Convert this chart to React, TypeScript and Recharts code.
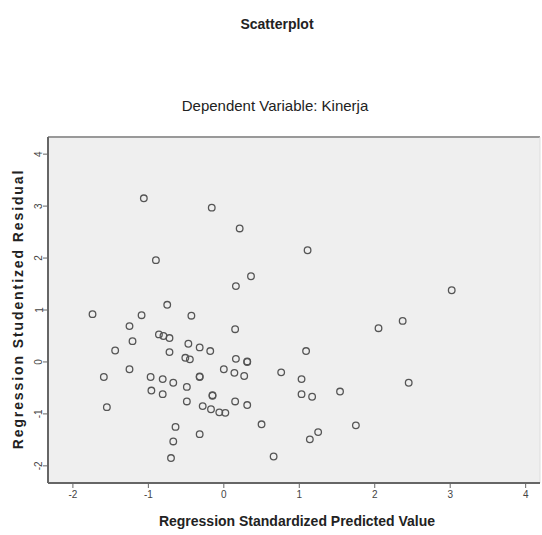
import { ScatterChart, Scatter, XAxis, YAxis, CartesianGrid, ReferenceLine } from "recharts";

// predicted (x) / studentized residual (y)
const predicted = [
  -1.06, -0.16, 0.21, -0.9, 0.36, 0.16, -0.75, 1.11, 3.02, -1.74, -1.09, -0.43,
  -1.25, -1.21, -1.44, -0.86, -0.8, -0.72, -0.47, -0.32, -0.18, -0.72, -0.51, -0.45,
  0.15, 0.16, 0.31, 0.31, 0.0, 0.14, 0.27, -1.25, -1.59, -0.97, -0.81, -0.67,
  -0.32, -0.32, -0.49, -0.96, -0.81, -0.15, -0.15, -0.49, -0.28, -0.17, -0.06, 0.02,
  0.15, 0.31, -1.55, -0.64, -0.67, -0.32, -0.7, 0.5, 0.66, 2.05, 2.37, 1.09,
  0.76, 1.03, 1.03, 1.17, 1.54, 2.45, 1.75, 1.25, 1.14,
];
const residual = [
  3.15, 2.97, 2.57, 1.96, 1.65, 1.46, 1.1, 2.15, 1.38, 0.92, 0.9, 0.89,
  0.69, 0.4, 0.22, 0.53, 0.5, 0.46, 0.35, 0.28, 0.21, 0.19, 0.08, 0.05,
  0.63, 0.06, 0.01, 0.0, -0.14, -0.21, -0.27, -0.14, -0.29, -0.29, -0.33, -0.4,
  -0.29, -0.28, -0.48, -0.55, -0.62, -0.64, -0.65, -0.76, -0.85, -0.91, -0.97, -0.98,
  -0.76, -0.83, -0.87, -1.25, -1.53, -1.39, -1.85, -1.2, -1.82, 0.65, 0.79, 0.21,
  -0.2, -0.33, -0.62, -0.67, -0.57, -0.4, -1.22, -1.35, -1.49,
];
const xTicks = [-2, -1, 0, 1, 2, 3, 4];
const yTicks = [-2, -1, 0, 1, 2, 3, 4];

const points = predicted.map((x, i) => ({ x, y: residual[i] }));

const font = "'Liberation Sans', Arial, sans-serif";

const Ring = (props: any) => (
  <circle cx={props.cx} cy={props.cy} r={3.3} fill="none" stroke="#555" strokeWidth={1.3} />
);

const XTick = ({ x, y, payload }: any) => (
  <text x={x} y={y + 8} textAnchor="middle" fontSize={10} fill="#444" fontFamily={font}>
    {payload.value}
  </text>
);

const YTick = ({ x, y, payload }: any) => (
  <text
    x={x - 2}
    y={y}
    transform={`rotate(-90 ${x - 2} ${y})`}
    textAnchor="middle"
    dominantBaseline="central"
    fontSize={10}
    fill="#444"
    fontFamily={font}
  >
    {payload.value}
  </text>
);

export default function App() {
  return (
    <div style={{ position: "absolute", left: 0, top: 0, width: 542, height: 535, background: "#fff" }}>
      <div style={{ position: "absolute", top: 16, width: 542, textAlign: "center", fontFamily: font, fontSize: 14, fontWeight: "bold", color: "#222", paddingLeft: 12, boxSizing: "border-box" }}>
        Scatterplot
      </div>
      <div style={{ position: "absolute", top: 97, width: 542, textAlign: "center", fontFamily: font, fontSize: 15, color: "#222", paddingLeft: 8, boxSizing: "border-box" }}>
        Dependent Variable: Kinerja
      </div>
      <div style={{ position: "absolute", top: 513, width: 542, textAlign: "center", fontFamily: font, fontSize: 14, fontWeight: "bold", color: "#222", paddingLeft: 52, boxSizing: "border-box" }}>
        Regression Standardized Predicted Value
      </div>
      <div
        style={{
          position: "absolute",
          left: 18,
          top: 309,
          transform: "translate(-50%, -50%) rotate(-90deg)",
          whiteSpace: "nowrap",
          fontFamily: font,
          fontSize: 14,
          fontWeight: "bold",
          letterSpacing: 1.9,
          color: "#222",
        }}
      >
        Regression Studentized Residual
      </div>
      <ScatterChart width={542} height={535} margin={{ top: 137, right: 2, bottom: 32, left: 28 }}>
        <CartesianGrid fill="#efefef" horizontal={false} vertical={false} />
        <XAxis
          type="number"
          dataKey="x"
          domain={[-2.33, 4.19]}
          ticks={xTicks}
          height={20}
          tickSize={5}
          tick={<XTick />}
          axisLine={{ stroke: "#666", strokeWidth: 2 }}
          tickLine={{ stroke: "#666" }}
          allowDataOverflow
        />
        <YAxis
          type="number"
          dataKey="y"
          domain={[-2.33, 4.33]}
          ticks={yTicks}
          width={20}
          tickSize={5}
          tick={<YTick />}
          axisLine={{ stroke: "#666", strokeWidth: 2 }}
          tickLine={{ stroke: "#666" }}
          allowDataOverflow
        />
        <ReferenceLine y={4.33} stroke="#999" strokeWidth={2} />
        <ReferenceLine x={4.19} stroke="#ddd" strokeWidth={1} />
        <Scatter data={points} shape={<Ring />} isAnimationActive={false} />
      </ScatterChart>
    </div>
  );
}
